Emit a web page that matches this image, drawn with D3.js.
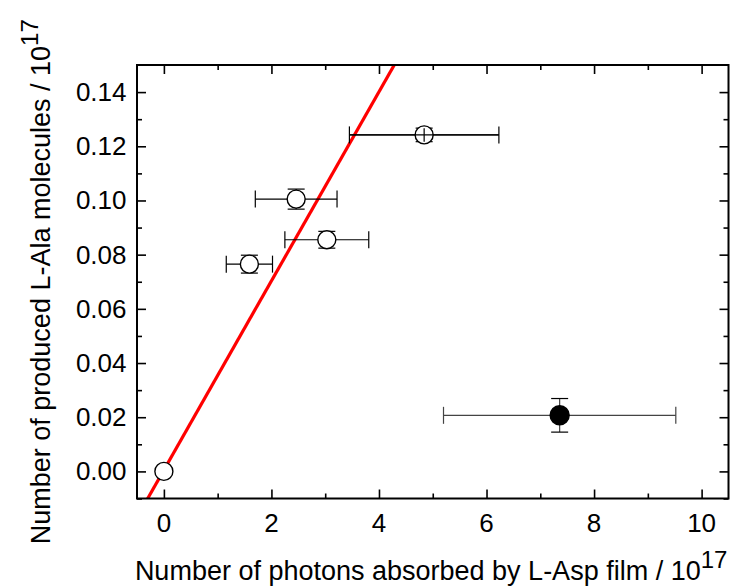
<!DOCTYPE html>
<html>
<head>
<meta charset="utf-8">
<script src="https://cdn.jsdelivr.net/npm/d3@7"></script>
<style>
  html, body { margin: 0; padding: 0; background: #fff; }
  svg { display: block; font-family: "Liberation Sans", Arial, Helvetica, sans-serif; }
</style>
</head>
<body>
<svg id="chart" width="734" height="587"></svg>
<script>
// ---- data ----
const photons    = [0.00, 1.59, 2.46, 3.03, 4.84, 7.36];          // x, 10^17
const photonsErr = [0.00, 0.43, 0.76, 0.78, 1.39, 2.16];
const alanine    = [0.000, 0.0765, 0.1005, 0.0855, 0.1242, 0.0207]; // y, 10^17
const alanineErr = [0.000, 0.0033, 0.0037, 0.0031, 0.0025, 0.0062];
const filled     = [false, false, false, false, false, true];
const fitSlope = [0.0349];
const fitIntercept = [0.0005];
const xTicks = [0, 2, 4, 6, 8, 10];
const yTicks = [0.00, 0.02, 0.04, 0.06, 0.08, 0.10, 0.12, 0.14];
const xDomain = [-0.5, 10.5];
const yDomain = [-0.01, 0.15];

// ---- layout ----
const W = 734, H = 587;
const m = { left: 137, right: 5.5, top: 65, bottom: 88.5 };
const iw = W - m.left - m.right, ih = H - m.top - m.bottom;
const svg = d3.select("#chart");
const x = d3.scaleLinear().domain(xDomain).range([m.left, m.left + iw]);
const y = d3.scaleLinear().domain(yDomain).range([m.top + ih, m.top]);

svg.append("defs").append("clipPath").attr("id", "clip")
  .append("rect").attr("x", m.left).attr("y", m.top).attr("width", iw).attr("height", ih);

// ---- ticks (inward, all four sides) ----
const xMinor = d3.range(-0, 11, 1).filter(v => v % 2 !== 0);
const yMinor = [-0.01, 0.01, 0.03, 0.05, 0.07, 0.09, 0.11, 0.13];
const major = 9, minor = 5;
function tickAxis(axisFn, scale, vals, len, transform) {
  const g = svg.append("g").attr("transform", transform)
    .call(axisFn(scale).tickValues(vals).tickSizeInner(-len).tickSizeOuter(0).tickFormat(""));
  g.select(".domain").remove();
  g.selectAll("line").attr("stroke", "#000").attr("stroke-width", 1.6);
  return g;
}
tickAxis(d3.axisBottom, x, xTicks, major, `translate(0,${m.top + ih})`);
tickAxis(d3.axisBottom, x, xMinor, minor, `translate(0,${m.top + ih})`);
tickAxis(d3.axisTop, x, xTicks, major, `translate(0,${m.top})`);
tickAxis(d3.axisTop, x, xMinor, minor, `translate(0,${m.top})`);
tickAxis(d3.axisLeft, y, yTicks, major, `translate(${m.left},0)`);
tickAxis(d3.axisLeft, y, yMinor, minor, `translate(${m.left},0)`);
tickAxis(d3.axisRight, y, yTicks, major, `translate(${m.left + iw},0)`);
tickAxis(d3.axisRight, y, yMinor, minor, `translate(${m.left + iw},0)`);

// tick labels
svg.append("g").selectAll("text").data(xTicks).join("text")
  .attr("x", d => x(d)).attr("y", 531.5).attr("text-anchor", "middle")
  .attr("font-size", 26).text(d => d3.format("d")(d));
svg.append("g").selectAll("text").data(yTicks).join("text")
  .attr("x", 126.5).attr("y", d => y(d) + 9).attr("text-anchor", "end")
  .attr("font-size", 26).text(d => d3.format(".2f")(d));

// ---- fit line ----
const fitX = [xDomain[0], xDomain[1]];
svg.append("path")
  .attr("clip-path", "url(#clip)")
  .attr("d", d3.line().x(d => x(d)).y(d => y(fitSlope[0] * d + fitIntercept[0]))(fitX))
  .attr("stroke", "#f00").attr("stroke-width", 3.2).attr("fill", "none");

// ---- error bars + points ----
const pts = photons.map((px, i) => ({ px, py: alanine[i], ex: photonsErr[i], ey: alanineErr[i], f: filled[i] }));
const cap = 8.5;
function errorBars(sel, withCaps) {
  sel.each(function (d) {
    const g = d3.select(this);
    const col = d.f ? "#444" : "#000";
    if (d.ex > 0) {
      g.append("line").attr("x1", x(d.px - d.ex)).attr("x2", x(d.px + d.ex))
        .attr("y1", y(d.py)).attr("y2", y(d.py)).attr("stroke", col).attr("stroke-width", 1.2);
      if (withCaps) {
        [d.px - d.ex, d.px + d.ex].forEach(v => g.append("line")
          .attr("x1", x(v)).attr("x2", x(v)).attr("y1", y(d.py) - cap).attr("y2", y(d.py) + cap)
          .attr("stroke", col).attr("stroke-width", 1.2));
      }
    }
    if (d.ey > 0) {
      g.append("line").attr("x1", x(d.px)).attr("x2", x(d.px))
        .attr("y1", y(d.py - d.ey)).attr("y2", y(d.py + d.ey)).attr("stroke", col).attr("stroke-width", 1.2);
      if (withCaps) {
        [d.py - d.ey, d.py + d.ey].forEach(v => g.append("line")
          .attr("x1", x(d.px) - cap).attr("x2", x(d.px) + cap).attr("y1", y(v)).attr("y2", y(v))
          .attr("stroke", "#000").attr("stroke-width", 1.2));
      }
    }
  });
}
svg.append("g").selectAll("g").data(pts).join("g").call(errorBars, true);
svg.append("g").selectAll("circle").data(pts).join("circle")
  .attr("cx", d => x(d.px)).attr("cy", d => y(d.py))
  .attr("r", d => d.f ? 9.5 : 9)
  .attr("fill", d => d.f ? "#000" : "#fff")
  .attr("stroke", "#000").attr("stroke-width", 1.4);
// the largest-x open point shows its bars through the marker
svg.append("g").selectAll("g").data(pts.filter((d, i) => i === 4)).join("g").call(errorBars, false);

// ---- frame ----
svg.append("rect").attr("x", m.left).attr("y", m.top).attr("width", iw).attr("height", ih)
  .attr("fill", "none").attr("stroke", "#000").attr("stroke-width", 2);

// ---- axis titles ----
const xt = svg.append("text").attr("x", x(4.97)).attr("y", 580).attr("text-anchor", "middle").attr("font-size", 27);
xt.append("tspan").text("Number of photons absorbed by L-Asp film / 10");
xt.append("tspan").attr("font-size", 24).attr("dy", -12).text("17");

const yt = svg.append("text").attr("transform", `translate(50,${(m.top + m.top + ih) / 2}) rotate(-90)`)
  .attr("text-anchor", "middle").attr("font-size", 27);
yt.append("tspan").text("Number of produced L-Ala molecules / 10");
yt.append("tspan").attr("font-size", 24).attr("dy", -12).text("17");
</script>
</body>
</html>
